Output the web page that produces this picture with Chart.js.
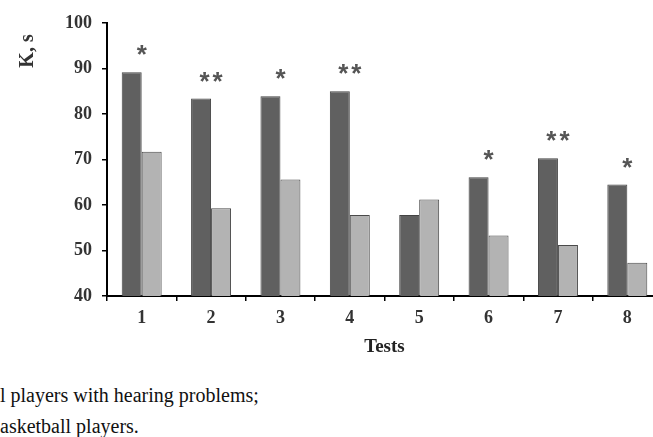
<!DOCTYPE html>
<html>
<head>
<meta charset="utf-8">
<script src="https://cdn.jsdelivr.net/npm/chart.js@4.4.1/dist/chart.umd.min.js"></script>
<style>
  html, body { margin: 0; padding: 0; background: #fff; overflow: hidden; }
  #wrap { position: relative; width: 653px; height: 437px; overflow: hidden; }
  /* chart box is wider than the window: the last category is cut off, as in the source */
  #box { position: absolute; left: 0; top: 0; width: 670px; height: 362px; }
  .note { position: absolute; left: 0; font: 20px "Liberation Serif", "Times New Roman", serif;
          line-height: 22px; color: #111; white-space: nowrap; }
</style>
</head>
<body>
<div id="wrap">
  <div id="box"><canvas id="c"></canvas></div>
  <div class="note" style="top:384px">l players with hearing problems;</div>
  <div class="note" style="top:415px">asketball players.</div>
</div>
<script>
/* ---------------------------------------------------------------- *
 * Data
 * ---------------------------------------------------------------- */
const tests = ["1", "2", "3", "4", "5", "6", "7", "8"];
const impairedPlayers = [89.2, 83.4, 83.9, 85.0, 57.8, 66.1, 70.3, 64.5];
const hearingPlayers  = [71.7, 59.3, 65.6, 57.8, 61.2, 53.3, 51.2, 47.3];
const significance    = ["*", "**", "*", "**", "", "*", "**", "*"];
const yTicks = [40, 50, 60, 70, 80, 90, 100];

const SERIF = '"Liberation Serif", "Times New Roman", serif';
const INK = "#333";

// Asterisks above each pair + rotated y title
const marksPlugin = {
  id: "marks",
  afterDatasetsDraw(chart) {
    const { ctx, scales: { x, y } } = chart;
    ctx.save();
    ctx.fillStyle = "#555";
    ctx.font = 'bold 26px "Liberation Sans", Arial, sans-serif';
    ctx.textAlign = "center";
    ctx.textBaseline = "alphabetic";
    ctx.letterSpacing = "3px";
    significance.forEach((m, i) => {
      if (!m) return;
      const top = y.getPixelForValue(Math.max(impairedPlayers[i], hearingPlayers[i]));
      const cy = top - 24;                 // glyph centre
      ctx.fillText(m, x.getPixelForValue(i) + 1.5, cy + 15);
    });
    ctx.restore();

    ctx.save();
    ctx.fillStyle = INK;
    ctx.font = "bold 20px " + SERIF;
    ctx.translate(33, 51);
    ctx.rotate(-Math.PI / 2);
    ctx.textAlign = "center";
    ctx.fillText("K, s", 0, 0);
    ctx.restore();
  },
};

new Chart(document.getElementById("c"), {
  type: "bar",
  data: {
    labels: tests,
    datasets: [
      {
        label: "Basketball players with hearing problems",
        data: impairedPlayers,
        backgroundColor: "#606060",
        borderColor: "#444",
        borderWidth: 1,
      },
      {
        label: "Basketball players",
        data: hearingPlayers,
        backgroundColor: "#b3b3b3",
        borderColor: "#4a4a4a",
        borderWidth: 1,
      },
    ],
  },
  options: {
    responsive: true,
    maintainAspectRatio: false,
    animation: false,
    datasets: { bar: { categoryPercentage: 0.576, barPercentage: 1.0 } },
    layout: { padding: { top: 23, right: 8, left: 0, bottom: 0 } },
    plugins: { legend: { display: false }, tooltip: { enabled: false } },
    scales: {
      x: {
        grid: { offset: true, drawOnChartArea: false, drawTicks: true, tickLength: 5,
                color: "#000", lineWidth: 1.5 },
        border: { display: true, color: "#000", width: 2 },
        ticks: { font: { family: SERIF, size: 18, weight: "bold" }, color: INK,
                 padding: 7, maxRotation: 0 },
        title: { display: true, text: "Tests", color: "#222",
                 font: { family: SERIF, size: 19, weight: "bold" } },
        afterFit(scale) { scale.height = 66; },
      },
      y: {
        min: 40,
        max: 100,
        afterBuildTicks(scale) { scale.ticks = yTicks.map(v => ({ value: v })); },
        grid: { drawOnChartArea: false, drawTicks: true, tickLength: 5,
                color: "#000", lineWidth: 1.5 },
        border: { display: true, color: "#000", width: 2 },
        ticks: { font: { family: SERIF, size: 18, weight: "bold" }, color: INK, padding: 10 },
        afterFit(scale) { scale.width = 107; },
      },
    },
  },
  plugins: [marksPlugin],
});
</script>
</body>
</html>
